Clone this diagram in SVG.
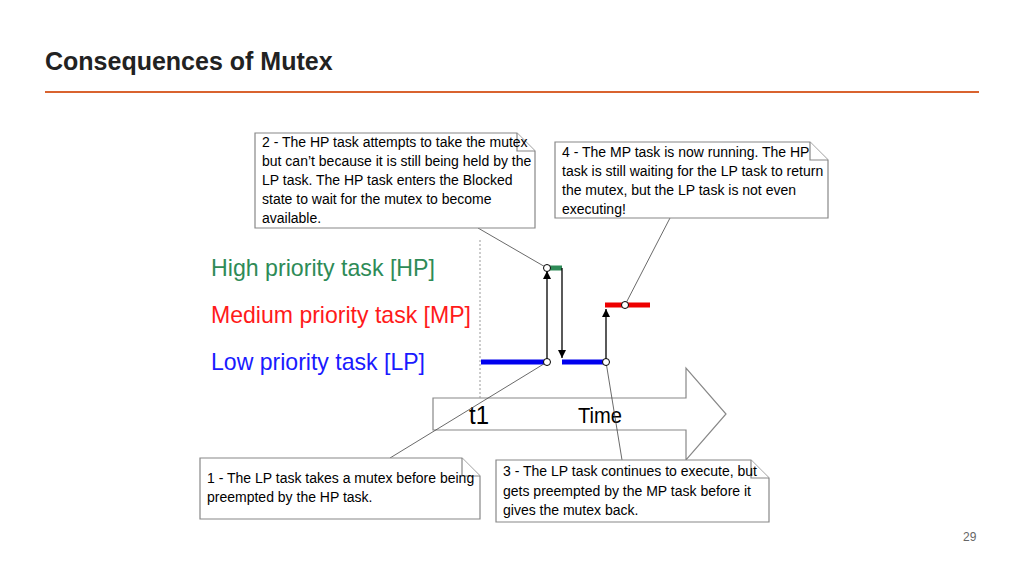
<svg xmlns="http://www.w3.org/2000/svg" width="1024" height="576" viewBox="0 0 1024 576">
<style>
.n{fill:#fff;stroke:#888;stroke-width:1.2}
.t{font-family:"Liberation Sans",Arial,sans-serif;font-size:14px;fill:#000}
.l{stroke:#444;stroke-width:0.8;fill:none}
.a{stroke:#000;stroke-width:1.3;fill:none;marker-end:url(#ah)}
.c{fill:#fff;stroke:#000;stroke-width:1}
.lab{font-family:"Liberation Sans",Arial,sans-serif;font-size:24px}
</style>
<defs><marker id="ah" viewBox="0 0 10 10" refX="10" refY="5" markerWidth="8" markerHeight="12" orient="auto" markerUnits="userSpaceOnUse"><path d="M0,0L10,5L0,10z" fill="#000"/></marker></defs>
<rect width="1024" height="576" fill="#fff"/>
<text x="45" y="70" font-family="Liberation Sans,Arial,sans-serif" font-weight="bold" font-size="25" fill="#222">Consequences of Mutex</text>
<line x1="45" y1="92" x2="979" y2="92" stroke="#d9632f" stroke-width="2"/>
<text x="963" y="541" font-family="Liberation Sans,Arial,sans-serif" font-size="12" fill="#666">29</text>
<g id="labels">
<text class="lab" x="211" y="276" fill="#2e8b57" textLength="224" lengthAdjust="spacingAndGlyphs">High priority task [HP]</text>
<text class="lab" x="211" y="323" fill="#ff1a1a" textLength="260" lengthAdjust="spacingAndGlyphs">Medium priority task [MP]</text>
<text class="lab" x="211" y="370" fill="#1a1aff" textLength="214" lengthAdjust="spacingAndGlyphs">Low priority task [LP]</text>
</g>
<g id="timeline">
<path d="M433,398H686V368L726,414L686,460V430H433Z" fill="#fff" stroke="#888" stroke-width="1.2"/>
<text x="469" y="424" font-family="Liberation Sans,Arial,sans-serif" font-size="26" textLength="20" lengthAdjust="spacingAndGlyphs">t1</text>
<text x="578" y="423" font-family="Liberation Sans,Arial,sans-serif" font-size="22" textLength="44" lengthAdjust="spacingAndGlyphs">Time</text>
<line x1="480" y1="240" x2="480" y2="398" stroke="#999" stroke-width="1" stroke-dasharray="2,2"/>
</g>
<g id="bars">
<line x1="481" y1="362" x2="547" y2="362" stroke="#0000ee" stroke-width="5"/>
<line x1="562" y1="362" x2="606" y2="362" stroke="#0000ee" stroke-width="5"/>
<line x1="547" y1="268" x2="562" y2="268" stroke="#2e8b57" stroke-width="5"/>
<line x1="605" y1="305" x2="650" y2="305" stroke="#ee0000" stroke-width="5"/>
</g>
<g id="connectors">
<line class="a" x1="547" y1="362" x2="547" y2="271"/>
<line class="a" x1="562" y1="268" x2="562" y2="358"/>
<line class="a" x1="606" y1="362" x2="606" y2="309"/>
<line class="l" x1="478" y1="228" x2="547" y2="268"/>
<line class="l" x1="670" y1="218" x2="625" y2="305"/>
<line class="l" x1="390" y1="458" x2="547" y2="362"/>
<line class="l" x1="622" y1="460" x2="606" y2="362"/>
<circle class="c" cx="547" cy="268" r="3.5"/>
<circle class="c" cx="547" cy="362" r="3.5"/>
<circle class="c" cx="606" cy="362" r="3.5"/>
<circle class="c" cx="625" cy="305" r="3.5"/>
</g>
<g id="note2">
<path class="n" d="M255,133H517L535,151V228H255Z"/><path class="n" d="M517,133V151H535" fill="none"/>
<text class="t"><tspan x="262" y="147">2 - The HP task attempts to take the mutex</tspan><tspan x="262" y="166">but can’t because it is still being held by the</tspan><tspan x="262" y="185">LP task.  The HP task enters the Blocked</tspan><tspan x="262" y="204">state to wait for the mutex to become</tspan><tspan x="262" y="223">available.</tspan></text>
</g>
<g id="note4">
<path class="n" d="M555,142H810L828,160V218H555Z"/><path class="n" d="M810,142V160H828" fill="none"/>
<text class="t"><tspan x="562" y="157">4 - The MP task is now running.  The HP</tspan><tspan x="562" y="176">task is still waiting for the LP task to return</tspan><tspan x="562" y="195">the mutex, but the LP task is not even</tspan><tspan x="562" y="214">executing!</tspan></text>
</g>
<g id="note1">
<path class="n" d="M200,458H462L480,476V519H200Z"/><path class="n" d="M462,458V476H480" fill="none"/>
<text class="t"><tspan x="207" y="483">1 - The LP task takes a mutex before being</tspan><tspan x="207" y="502">preempted by the HP task.</tspan></text>
</g>
<g id="note3">
<path class="n" d="M496,460H751L769,478V522H496Z"/><path class="n" d="M751,460V478H769" fill="none"/>
<text class="t"><tspan x="503" y="476">3 - The LP task continues to execute, but</tspan><tspan x="503" y="496">gets preempted by the MP task before it</tspan><tspan x="503" y="515">gives the mutex back.</tspan></text>
</g>
</svg>
